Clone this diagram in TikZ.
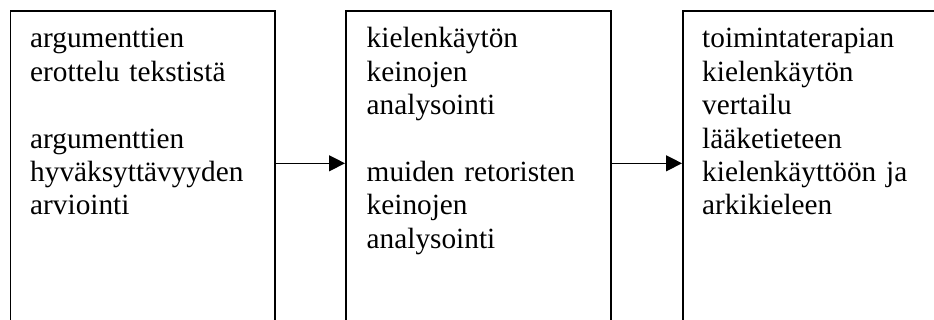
\documentclass[tikz,border=0pt]{standalone}
\usepackage{fontspec}
\setmainfont{Liberation Serif}
\usetikzlibrary{arrows.meta}
\begin{document}
\begin{tikzpicture}[x=1pt,y=1pt,
  boxstyle/.style={draw=black,line width=1.6pt,rectangle,anchor=north west,minimum height=340pt,inner sep=0pt},
  txt/.style={anchor=base west,text width=240pt,align=left,inner sep=0pt,font=\fontsize{29.3}{33.4}\selectfont},
  arr/.style={line width=1.3pt,-{Triangle[length=16pt,width=16pt]}}]
\useasboundingbox (0,0) rectangle (934,-320);
\clip (0,0) rectangle (934,-320);
\node[boxstyle,minimum width=264.5pt] (b1) at (9.5,-10) {};
\node[boxstyle,minimum width=265pt] (b2) at (345,-10) {};
\node[boxstyle,minimum width=280pt] (b3) at (682,-10) {};
\node[txt] (t1) at (30,-48) {argumenttien\\erottelu tekstistä\\[33.4pt]argumenttien\\hyväksyttävyyden\\arviointi};
\node[txt] (t2) at (366.5,-48) {kielenkäytön\\keinojen\\analysointi\\[33.4pt]muiden retoristen\\keinojen\\analysointi};
\node[txt] (t3) at (702,-48) {toimintaterapian\\kielenkäytön\\vertailu\\lääketieteen\\kielenkäyttöön ja\\arkikieleen};
\coordinate (m) at (0,-163.3);
\draw[arr] (b1.east |- m) -- (b2.west |- m);
\draw[arr] (b2.east |- m) -- (b3.west |- m);
\end{tikzpicture}
\end{document}
